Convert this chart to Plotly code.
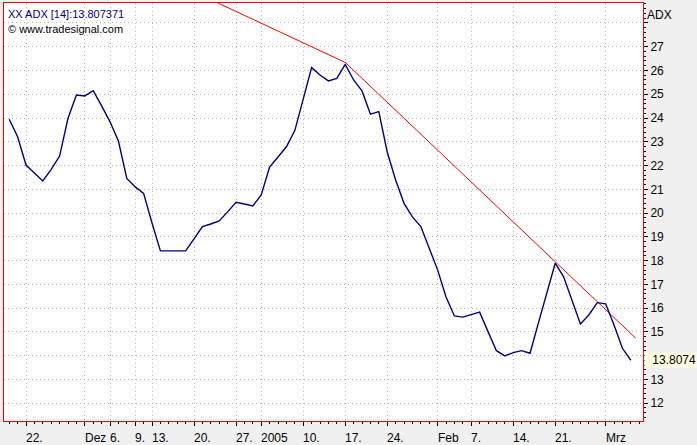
import plotly.graph_objects as go

# trading-day index (0 = 22 Nov 2004) and ADX(14) values
day_index = list(range(-2, 73))
adx = [23.95, 23.21, 22.02, 21.69, 21.35, 21.84, 22.40, 23.99, 24.97, 24.93,
       25.15, 24.51, 23.84, 23.03, 21.46, 21.10, 20.83, 19.58, 18.41, 18.41,
       18.41, 18.41, 18.91, 19.43, 19.54, 19.67, 20.05, 20.45, 20.38, 20.30,
       20.76, 21.94, 22.36, 22.79, 23.47, 24.83, 26.12, 25.81, 25.56, 25.67,
       26.26, 25.60, 25.14, 24.16, 24.27, 22.57, 21.39, 20.41, 19.84, 19.43,
       18.53, 17.61, 16.47, 15.67, 15.62, 15.74, 15.83, 15.01, 14.21, 13.99,
       14.13, 14.21, 14.10, 15.38, 16.64, 17.89, 17.32, 16.34, 15.33, 15.71,
       16.23, 16.18, 15.29, 14.31, 13.807371]

# trend line (red)
trend_x = [20, 38, 72.6]
trend_y = [29.31, 26.34, 14.73]

# x-axis labels
tick_pos = [0, 7, 10, 13, 15, 20, 25, 28, 33, 38, 43, 49, 53, 58, 63, 69]
tick_labels = ["22.", "Dez", "6.", "9.", "13.", "20.", "27.", "2005", "10.",
               "17.", "24.", "Feb", "7.", "14.", "21.", "Mrz"]

# y-axis ticks (14 is hidden behind the last-value box, 28 is unlabeled)
y_ticks = list(range(12, 29))
y_labels = ["12", "13", "", "15", "16", "17", "18", "19", "20", "21", "22",
            "23", "24", "25", "26", "27", ""]

last_value = 13.807371

FONT = "Liberation Sans, Arial, sans-serif"

fig = go.Figure()
fig.add_trace(go.Scatter(x=trend_x, y=trend_y, mode="lines",
                         line=dict(color="#ff0000", width=1), hoverinfo="skip"))
fig.add_trace(go.Scatter(x=day_index, y=adx, mode="lines",
                         line=dict(color="#000080", width=1.4)))

annotations = []
for p, t in zip(tick_pos, tick_labels):
    annotations.append(dict(x=p, xref="x", y=0, yref="paper", text=t,
                            showarrow=False, xanchor="left", yanchor="top",
                            xshift=-2, yshift=-8,
                            font=dict(family=FONT, size=12, color="black")))

annotations += [
    dict(x=0, xref="paper", y=1, yref="paper", text="XX ADX [14]:%.6f" % last_value,
         showarrow=False, xanchor="left", yanchor="top", xshift=2, yshift=-3,
         font=dict(family=FONT, size=11, color="#000080")),
    dict(x=0, xref="paper", y=1, yref="paper", text="\u00a9 www.tradesignal.com",
         showarrow=False, xanchor="left", yanchor="top", xshift=2, yshift=-18,
         font=dict(family=FONT, size=11, color="black")),
    dict(x=1, xref="paper", y=1, yref="paper", text="ADX",
         showarrow=False, xanchor="left", yanchor="top", xshift=2, yshift=-3,
         font=dict(family=FONT, size=12, color="black")),
    dict(x=1, xref="paper", y=last_value, yref="y", text="13.8074",
         showarrow=False, xanchor="left", yanchor="middle", xshift=1,
         bgcolor="#ffffe1", width=51, align="right", borderpad=0,
         font=dict(family=FONT, size=12, color="black")),
]

fig.update_layout(
    width=697, height=445, autosize=False,
    margin=dict(l=4, r=54, t=3, b=24, pad=0),
    paper_bgcolor="#f0f0f0", plot_bgcolor="white",
    showlegend=False,
    font=dict(family=FONT, size=12, color="black"),
    annotations=annotations,
    xaxis=dict(range=[-2.62, 73.45], tickmode="array", tickvals=tick_pos,
               showticklabels=False, ticks="outside", ticklen=4, tickcolor="black",
               showgrid=True, gridcolor="#b8b8b8", griddash="1px,3px", gridwidth=1,
               showline=True, linecolor="#ff0000", linewidth=1, mirror=True,
               zeroline=False,
               minor=dict(tickmode="linear", tick0=0, dtick=1, ticks="outside",
                          ticklen=2, tickcolor="black", showgrid=False)),
    yaxis=dict(range=[11.25, 28.84], side="right", tickmode="array",
               tickvals=y_ticks, ticktext=y_labels, ticks="outside", ticklen=4,
               tickcolor="black", showgrid=True, gridcolor="#b8b8b8",
               griddash="1px,3px", gridwidth=1,
               showline=True, linecolor="#ff0000", linewidth=1, mirror=True,
               zeroline=False, tickfont=dict(family=FONT, size=12),
               minor=dict(tickmode="linear", tick0=0, dtick=0.2, ticks="outside",
                          ticklen=2, tickcolor="black", showgrid=False)),
)

fig.add_shape(type="line", xref="paper", yref="y", x0=1.003, x1=1.008,
              y0=last_value, y1=last_value, line=dict(color="black", width=1))

fig.write_html("out.html",
               config={"displayModeBar": False},
               post_script="document.body.style.margin='0';document.body.style.overflow='hidden';")
